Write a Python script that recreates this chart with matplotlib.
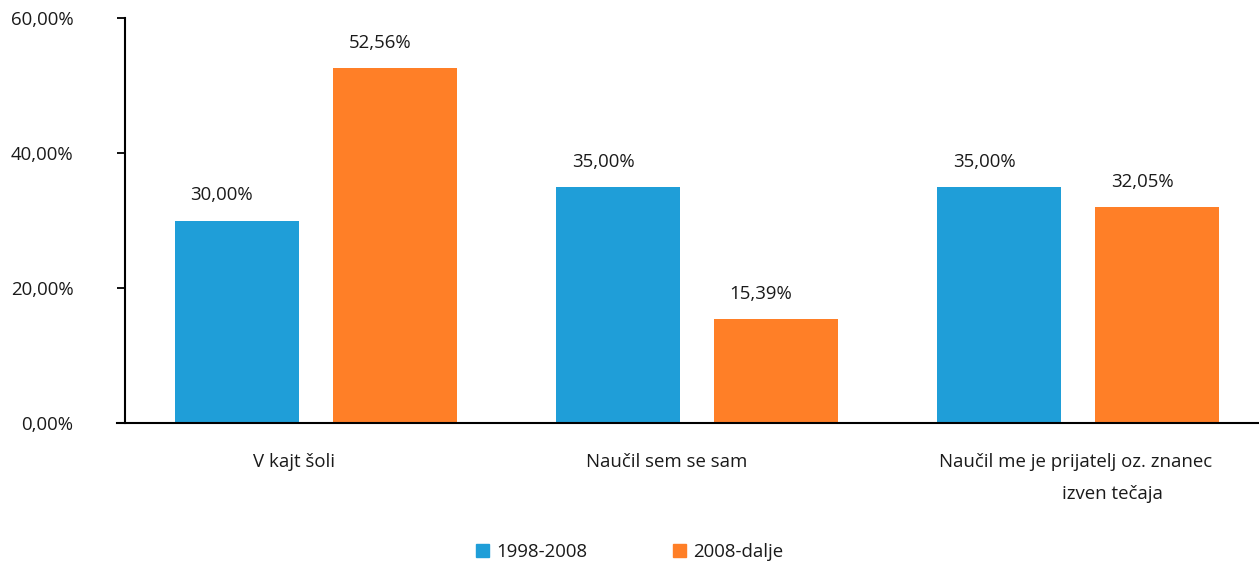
import matplotlib.pyplot as plt
import matplotlib.transforms as mtransforms
from matplotlib.patches import Patch
import numpy as np

categories = ['V kajt šoli', 'Naučil sem se sam', 'Naučil me je prijatelj oz. znanec\nizven tečaja']
series_names = ['1998-2008', '2008-dalje']
values_1998 = [30.00, 35.00, 35.00]
values_2008 = [52.56, 15.39, 32.05]
yticks = [0, 20, 40, 60]

colors = ['#1f9ed8', '#ff7f27']
txt = '#1a1a1a'
fs = 13.4
plt.rcParams['font.family'] = ['Open Sans', 'DejaVu Sans']

def pct(v):
    return ('%.2f%%' % v).replace('.', ',')

fig = plt.figure(figsize=(12.59, 5.64), dpi=100)
ax = fig.add_axes([125/1259, 1-423/564, 1-125/1259, (423-18)/564])

x = np.arange(len(categories))
off = 0.2073
w = 0.3255
for vals, dx, col in [(values_1998, -off, colors[0]), (values_2008, off, colors[1])]:
    bars = ax.bar(x + dx, vals, width=w, color=col, zorder=2)
    for b, v in zip(bars, vals):
        t = mtransforms.offset_copy(ax.transData, fig=fig, x=-15, y=25, units='dots')
        ax.text(b.get_x() + b.get_width()/2, v, pct(v), transform=t,
                ha='center', va='center', fontsize=fs, color=txt)

ax.set_xlim(-0.501, 2.475)
ax.set_ylim(0, 60)
ax.set_yticks(yticks)
ax.set_yticklabels([pct(v) for v in yticks], fontsize=fs, color=txt)
ax.tick_params(axis='y', length=6, width=1.3, pad=31)
ax.set_xticks([])
for s in ['top', 'right']:
    ax.spines[s].set_visible(False)
ax.spines['left'].set_linewidth(1.5)
ax.spines['bottom'].set_linewidth(1.5)
ax.spines['bottom'].set_bounds(-0.523, 2.475)
ax.spines['bottom'].set_clip_on(False)

# category labels (pixel shifts per line to follow the original layout)
line_shift = [[-22], [-30], [-2, 34]]
for i, cat in enumerate(categories):
    for j, line in enumerate(cat.split('\n')):
        t = mtransforms.offset_copy(ax.get_xaxis_transform(), fig=fig,
                                    x=line_shift[i][j], y=-39 - 32*j, units='dots')
        ax.text(i, 0, line, transform=t, ha='center', va='center',
                fontsize=fs, color=txt)

handles = [Patch(color=c, label=n) for c, n in zip(colors, series_names)]
fig.legend(handles=handles, loc='center', bbox_to_anchor=(0.5, 1-552/564), ncol=2,
           frameon=False, fontsize=fs, handlelength=0.7, handleheight=0.7,
           handletextpad=0.4, columnspacing=4.6, labelcolor=txt)

fig.savefig('out.png', dpi=100)
